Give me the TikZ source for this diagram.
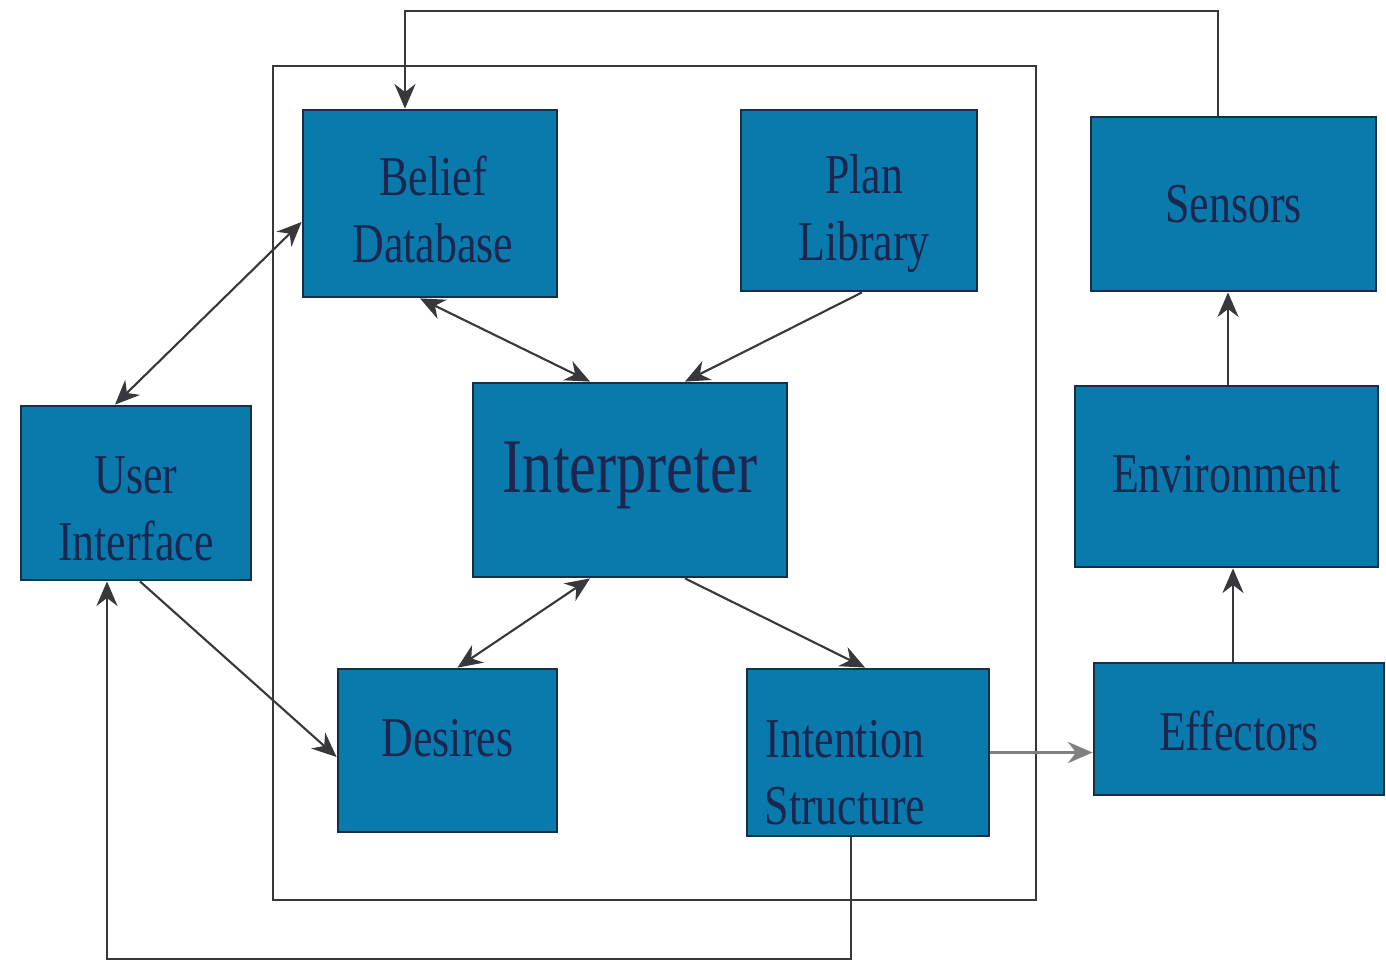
\documentclass[tikz,border=0pt]{standalone}
\usepackage{fontspec}
\setmainfont{Liberation Serif}
\newfontfamily\boxfont[FakeStretch=0.78]{Liberation Serif}
\usepackage{tikz}
\usetikzlibrary{arrows.meta,positioning}
\definecolor{boxblue}{RGB}{10,122,172}
\definecolor{boxedge}{RGB}{25,45,70}
\definecolor{boxtext}{RGB}{28,38,78}
\definecolor{wire}{RGB}{55,55,60}

\begin{document}
\begin{tikzpicture}[
    unit/.style={draw=boxedge, line width=0.8pt, fill=boxblue, inner sep=0pt},
    caption/.style={text=boxtext, align=center, inner sep=0pt,
        font=\boxfont\fontsize{16}{19}\selectfont},
    link/.style={draw=wire, line width=0.6pt, -{Stealth[length=7pt,width=6pt]}},
    twolink/.style={link, {Stealth[length=7pt,width=6pt]}-{Stealth[length=7pt,width=6pt]}}
  ]
    \useasboundingbox (0,0) rectangle (13.86,9.6);

    % agent frame
    \draw[draw=wire, line width=0.7pt] (2.73,0.60) rectangle (10.36,8.94);

    \node[unit, minimum width=2.54cm, minimum height=1.87cm] (belief) at (4.30,7.565) {};
    \node[unit, minimum width=2.36cm, minimum height=1.81cm] (plan) at (8.59,7.595) {};
    \node[unit, minimum width=2.85cm, minimum height=1.74cm] (sensors) at (12.335,7.56) {};
    \node[unit, minimum width=3.14cm, minimum height=1.94cm] (interp) at (6.30,4.80) {};
    \node[unit, minimum width=2.30cm, minimum height=1.74cm] (ui) at (1.36,4.67) {};
    \node[unit, minimum width=3.03cm, minimum height=1.81cm] (env) at (12.265,4.835) {};
    \node[unit, minimum width=2.19cm, minimum height=1.63cm] (desires) at (4.475,2.095) {};
    \node[unit, minimum width=2.42cm, minimum height=1.67cm] (intent) at (8.68,2.075) {};
    \node[unit, minimum width=2.90cm, minimum height=1.32cm] (effect) at (12.39,2.31) {};

    % labels
    \node[caption] (belief-txt) at ([xshift=0.03cm,yshift=-0.06cm]belief) {Belief\\Database};
    \node[caption] (plan-txt) at ([xshift=0.05cm,yshift=-0.13cm]plan) {Plan\\Library};
    \node[caption] (sensors-txt) at (sensors) {Sensors};
    \node[caption, font=\boxfont\fontsize{22}{26}\selectfont] (interp-txt) at ([yshift=0.05cm]interp) {Interpreter};
    \node[caption] (ui-txt) at ([yshift=-0.16cm]ui) {User\\Interface};
    \node[caption] (env-txt) at ([yshift=0.02cm]env) {Environment};
    \node[caption] (desires-txt) at ([yshift=0.12cm]desires) {Desires};
    \node[caption] (intent-txt) at ([xshift=-0.23cm,yshift=-0.2cm]intent) {Intention\\Structure};
    \node[caption] (effect-txt) at ([yshift=-0.02cm]effect) {Effectors};

    % connectors
    \draw[twolink] ([xshift=-0.1cm]belief.south) -- ([xshift=-0.4cm]interp.north);
    \draw[link] ([xshift=0.03cm]plan.south) -- ([xshift=0.55cm]interp.north);
    \draw[twolink] ([xshift=-0.21cm]ui.north) -- ([yshift=-0.185cm]belief.west);
    \draw[link] ([xshift=0.04cm]ui.south) -- ([yshift=-0.065cm]desires.west);
    \draw[twolink] ([xshift=-0.4cm]interp.south) -- ([xshift=0.1cm]desires.north);
    \draw[link] ([xshift=0.55cm]interp.south) -- ([xshift=-0.03cm]intent.north);
    \draw[link, draw=gray, line width=1.1pt] (intent.east) -- (effect.west |- intent.east);
    \draw[link] ([xshift=-0.06cm]effect.north) -- ([xshift=-0.06cm]effect.north |- env.south);
    \draw[link] ([xshift=0.015cm]env.north) -- ([xshift=0.015cm]env.north |- sensors.south);
    \draw[link] ([xshift=-0.155cm]sensors.north) -- ++(0,1.05) -| ([xshift=-0.25cm]belief.north);
    \draw[link] ([xshift=-0.17cm]intent.south) -- ++(0,-1.22) -| ([xshift=-0.29cm]ui.south);
\end{tikzpicture}
\end{document}
